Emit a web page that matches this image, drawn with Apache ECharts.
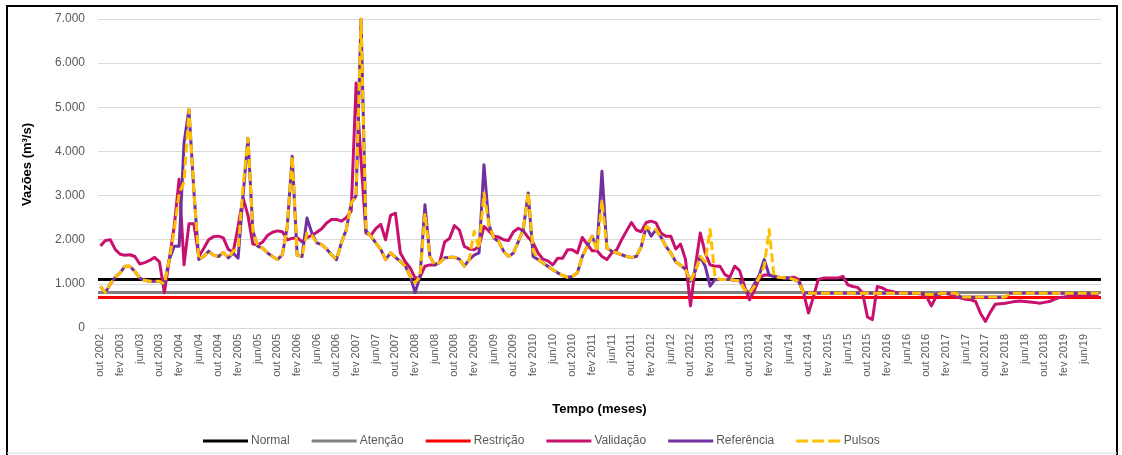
<!DOCTYPE html>
<html>
<head>
<meta charset="utf-8">
<script src="https://cdn.jsdelivr.net/npm/echarts@6/dist/echarts.min.js"></script>
<style>
  html, body { margin: 0; padding: 0; background: #ffffff; }
  #chart { width: 1122px; height: 455px; }
</style>
</head>
<body>
<div id="chart"></div>
<script>
// Monthly categories, out/2002 .. set/2019
const MONTH_NAMES = ['jan', 'fev', 'mar', 'abr', 'mai', 'jun', 'jul', 'ago', 'set', 'out', 'nov', 'dez'];
const FIRST_YEAR = 2002;
const FIRST_MONTH = 9;      // outubro
const MONTH_COUNT = 204;

const categories = [];
for (let k = 0; k < MONTH_COUNT; k++) {
  const m = (FIRST_MONTH + k) % 12;
  const y = FIRST_YEAR + Math.floor((FIRST_MONTH + k) / 12);
  categories.push(m === 5 ? 'jun/' + String(y).slice(2) : MONTH_NAMES[m] + ' ' + y);
}

// Operating levels (m³/s)
const NIVEL_NORMAL = 1100;
const NIVEL_ATENCAO = 800;
const NIVEL_RESTRICAO = 700;

// Vazões mensais (m³/s)
const validacao = [
  1860, 1980, 2000, 1780, 1670, 1650, 1660, 1620, 1450, 1480, 1530, 1600,   // out/02 - set/03
  1500, 800, 1550, 2300, 3370, 1430, 2360, 2360, 1620, 1800, 2000, 2070,     // out/03 - set/04
  2080, 2040, 1780, 1720, 2300, 2950, 2550, 1900, 1880, 1950, 2100, 2170,    // out/04 - set/05
  2200, 2180, 2000, 2030, 2050, 1950, 2050, 2100, 2170, 2250, 2380, 2460,    // out/05 - set/06
  2460, 2420, 2500, 2650, 5550, 3800, 2150, 2100, 2250, 2350, 2000, 2550,    // out/06 - set/07
  2600, 1700, 1500, 1360, 1130, 1150, 1400, 1430, 1430, 1480, 1950, 2030,    // out/07 - set/08
  2320, 2220, 1850, 1790, 1770, 1850, 2300, 2200, 2080, 2060, 2000, 1980,    // out/08 - set/09
  2180, 2260, 2200, 2050, 1930, 1700, 1560, 1520, 1430, 1580, 1580, 1770,    // out/09 - set/10
  1770, 1700, 2050, 1900, 1750, 1750, 1620, 1550, 1700, 1770, 2000, 2200,    // out/10 - set/11
  2390, 2220, 2180, 2390, 2420, 2380, 2150, 2080, 2080, 1790, 1900, 1550,    // out/11 - set/12
  500, 1400, 2150, 1700, 1430, 1400, 1400, 1210, 1150, 1400, 1300, 940,      // out/12 - set/13
  640, 850, 1130, 1200, 1200, 1170, 1150, 1130, 1130, 1150, 1100, 800,       // out/13 - set/14
  340, 700, 1100, 1130, 1130, 1130, 1130, 1170, 980, 940, 920, 800,          // out/14 - set/15
  250, 190, 940, 910, 850, 830, 800, 790, 790, 790, 780, 770,                // out/15 - set/16
  720, 500, 720, 780, 780, 760, 700, 680, 650, 640, 600, 330,                // out/16 - set/17
  150, 360, 540, 550, 560, 580, 600, 610, 600, 590, 580, 560,                // out/17 - set/18
  580, 600, 650, 690, 700, 720, 740, 740, 740, 740, 740, 740                 // out/18 - set/19
];

const referencia = [
  940, 800, 1000, 1150, 1250, 1400, 1400, 1280, 1130, 1080, 1060, 1060,
  1060, 1000, 1550, 1850, 1850, 4200, 4950, 3100, 1550, 1620, 1740, 1650,
  1620, 1710, 1590, 1700, 1580, 3000, 4300, 2200, 1850, 1810, 1700, 1620,
  1550, 1660, 2300, 3890, 1650, 1620, 2490, 2150, 1930, 1890, 1790, 1660,
  1550, 1930, 2230, 2830, 3000, 7000, 2200, 2080, 1930, 1780, 1550, 1700,
  1600, 1510, 1400, 1170, 800, 1170, 2790, 1620, 1430, 1480, 1590, 1600,
  1600, 1560, 1400, 1550, 1650, 1700, 3700, 2340, 2040, 1960, 1740, 1620,
  1700, 1960, 2230, 3060, 1620, 1550, 1470, 1400, 1320, 1250, 1190, 1150,
  1170, 1250, 1620, 1850, 2080, 1800, 3550, 1810, 1740, 1700, 1660, 1620,
  1600, 1620, 1850, 2300, 2080, 2230, 2060, 1850, 1700, 1500, 1420, 1330,
  1060, 1300, 1620, 1400, 950, 1100, 1100, 1100, 1100, 1080, 1070, 880,
  790, 1000, 1200, 1550, 1200, 1170, 1150, 1140, 1130, 1100, 1050, 800,
  790, 790, 790, 790, 790, 790, 790, 790, 790, 790, 790, 790,
  790, 790, 790, 790, 790, 790, 790, 790, 790, 790, 790, 790,
  760, 760, 760, 790, 790, 790, 790, 700, 700, 700, 700, 700,
  700, 700, 700, 700, 700, 790, 790, 790, 790, 790, 790, 790,
  790, 790, 790, 790, 790, 790, 790, 790, 790, 790, 790, 790
];

const pulsos = [
  940, 800, 1000, 1150, 1250, 1400, 1400, 1280, 1130, 1080, 1060, 1060,
  1060, 1000, 1550, 2200, 3050, 3300, 4950, 3100, 1550, 1620, 1740, 1650,
  1620, 1710, 1590, 1740, 1800, 3200, 4300, 2200, 1850, 1810, 1700, 1620,
  1550, 1660, 2300, 3890, 1650, 1620, 2150, 2100, 1930, 1890, 1790, 1660,
  1550, 1930, 2230, 2830, 3000, 7000, 2200, 2080, 1930, 1780, 1550, 1700,
  1600, 1510, 1400, 1170, 1020, 1170, 2600, 1620, 1430, 1480, 1590, 1600,
  1600, 1560, 1400, 1550, 2190, 1800, 3060, 2340, 2040, 1960, 1740, 1620,
  1700, 1960, 2230, 3060, 1750, 1550, 1470, 1400, 1320, 1250, 1190, 1150,
  1170, 1250, 1620, 1850, 2080, 1740, 2900, 1810, 1740, 1700, 1660, 1620,
  1600, 1620, 1850, 2300, 2230, 2230, 2060, 1850, 1700, 1500, 1420, 1330,
  1060, 1300, 1620, 1500, 2230, 1150, 1100, 1100, 1100, 1080, 1070, 880,
  790, 950, 1150, 1400, 2230, 1170, 1150, 1140, 1130, 1100, 1050, 800,
  790, 790, 790, 790, 790, 790, 790, 790, 790, 790, 790, 790,
  790, 790, 790, 790, 790, 790, 790, 790, 790, 790, 790, 790,
  760, 760, 760, 790, 790, 790, 790, 700, 700, 700, 700, 700,
  700, 700, 700, 700, 700, 790, 790, 790, 790, 790, 790, 790,
  790, 790, 790, 790, 790, 790, 790, 790, 790, 790, 790, 790
];

const FONT = "'Liberation Sans', Arial, sans-serif";
const COLORS = {
  normal: '#000000',
  atencao: '#808080',
  restricao: '#ff0000',
  validacao: '#c8106e',
  referencia: '#7030a0',
  pulsos: '#ffc000'
};

// Legend keys: plain bar for solid series, three dashes for the dashed one
const ICON_SOLID = 'rect';
const ICON_DASHED = 'path://M0,0h12v3h-12z M16,0h12v3h-12z M32,0h12v3h-12z';

function thousands(v) {
  return String(v).replace(/\B(?=(\d{3})+(?!\d))/g, '.');
}

function levelSeries(name, value, color) {
  return {
    name: name,
    type: 'line',
    data: [],
    symbol: 'none',
    color: color,
    lineStyle: { color: color, width: 3 },
    markLine: {
      silent: true,
      z: 2,
      symbol: ['none', 'none'],
      label: { show: false },
      lineStyle: { color: color, width: 3, type: 'solid' },
      emphasis: { disabled: true },
      data: [{ yAxis: value }]
    }
  };
}

function flowSeries(name, data, color, dashed, z) {
  return {
    name: name,
    type: 'line',
    data: data,
    symbol: 'none',
    z: z,
    color: color,
    lineStyle: { color: color, width: 3, type: dashed ? [9, 4] : 'solid', cap: 'butt', join: 'round' }
  };
}

const chart = echarts.init(document.getElementById('chart'), null, { renderer: 'canvas' });

chart.setOption({
  animation: false,
  backgroundColor: '#ffffff',
  textStyle: { fontFamily: FONT },
  grid: { left: 98, right: 21, top: 19, bottom: 127 },
  legend: {
    left: 198,
    top: 430,
    itemWidth: 45,
    itemHeight: 3,
    itemGap: 22,
    textStyle: { fontFamily: FONT, fontSize: 12, color: '#595959', padding: [0, 0, 0, -2] },
    data: [
      { name: 'Normal', icon: ICON_SOLID },
      { name: 'Atenção', icon: ICON_SOLID },
      { name: 'Restrição', icon: ICON_SOLID },
      { name: 'Validação', icon: ICON_SOLID },
      { name: 'Referência', icon: ICON_SOLID },
      { name: 'Pulsos', icon: ICON_DASHED }
    ]
  },
  xAxis: {
    type: 'category',
    data: categories,
    boundaryGap: true,
    name: 'Tempo (meses)',
    nameLocation: 'middle',
    nameGap: 75,
    nameTextStyle: { fontFamily: FONT, fontSize: 13, fontWeight: 'bold', color: '#000000' },
    axisLine: { lineStyle: { color: '#d9d9d9', width: 1 } },
    axisTick: { show: false },
    axisLabel: {
      interval: 3,
      rotate: 90,
      margin: 6,
      padding: [5, 0, 0, 0],
      fontFamily: FONT,
      fontSize: 11,
      color: '#595959'
    },
    splitLine: { show: false }
  },
  yAxis: {
    type: 'value',
    min: 0,
    max: 7000,
    interval: 1000,
    name: 'Vazões (m³/s)',
    nameLocation: 'middle',
    nameRotate: 90,
    nameGap: 64,
    nameTextStyle: { fontFamily: FONT, fontSize: 13, fontWeight: 'bold', color: '#000000', padding: [0, 0, 0, 18] },
    axisLine: { show: false },
    axisTick: { show: false },
    axisLabel: {
      margin: 13,
      fontFamily: FONT,
      fontSize: 12,
      color: '#595959',
      formatter: thousands
    },
    splitLine: { lineStyle: { color: '#d9d9d9', width: 1 } }
  },
  series: [
    levelSeries('Normal', NIVEL_NORMAL, COLORS.normal),
    levelSeries('Atenção', NIVEL_ATENCAO, COLORS.atencao),
    levelSeries('Restrição', NIVEL_RESTRICAO, COLORS.restricao),
    flowSeries('Validação', validacao, COLORS.validacao, false, 3),
    flowSeries('Referência', referencia, COLORS.referencia, false, 4),
    flowSeries('Pulsos', pulsos, COLORS.pulsos, true, 5)
  ],
  graphic: [
    { type: 'line', silent: true, shape: { x1: 7, y1: 6, x2: 1117, y2: 6 }, style: { stroke: '#000', lineWidth: 2 } },
    { type: 'line', silent: true, shape: { x1: 7, y1: 5, x2: 7, y2: 455 }, style: { stroke: '#000', lineWidth: 2 } },
    { type: 'line', silent: true, shape: { x1: 1117, y1: 5, x2: 1117, y2: 455 }, style: { stroke: '#000', lineWidth: 2 } },
    { type: 'line', silent: true, shape: { x1: 7, y1: 453, x2: 1117, y2: 453 }, style: { stroke: '#d9d9d9', lineWidth: 1 } }
  ]
});
</script>
</body>
</html>
